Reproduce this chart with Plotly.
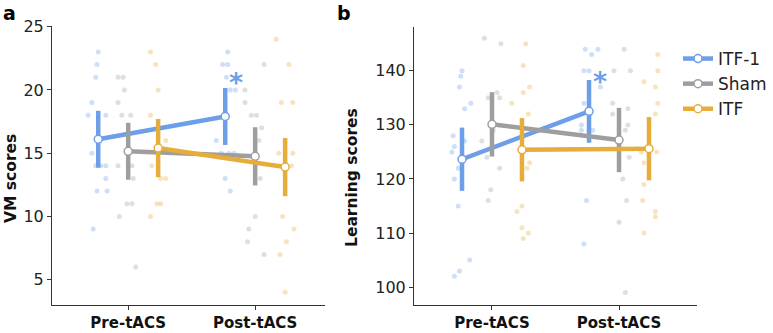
import plotly.graph_objects as go

# ---------------- data ----------------
conditions = ["Pre-tACS", "Post-tACS"]
groups = ["ITF-1", "Sham", "ITF"]

# Panel a: VM scores (group means and SEM)
vm_mean_itf1 = [16.1, 17.9]
vm_sem_itf1 = [2.25, 2.25]
vm_mean_sham = [15.15, 14.75]
vm_sem_sham = [2.25, 2.3]
vm_mean_itf = [15.4, 13.9]
vm_sem_itf = [2.3, 2.3]

# Panel b: Learning scores (group means and SEM)
ls_mean_itf1 = [123.65, 132.5]
ls_sem_itf1 = [5.85, 5.8]
ls_mean_sham = [130.1, 127.2]
ls_sem_sham = [5.95, 5.95]
ls_mean_itf = [125.4, 125.6]
ls_sem_itf = [5.85, 5.85]

# individual subject points (values, and horizontal jitter in category units)
vm_itf1_pre = [23, 22, 21, 19, 18, 18, 15, 14, 14, 14, 13, 12, 12, 9]
vm_itf1_pre_jit = [0.0, -0.01, -0.02, -0.05, -0.08, 0.06, -0.05, -0.02, 0.02, 0.06, 0.06, -0.01, 0.07, -0.04]
vm_itf1_post = [23, 22, 22, 21, 20, 20, 16, 15, 15, 15, 13, 12]
vm_itf1_post_jit = [0.02, -0.02, 0.02, 0.01, 0.04, 0.08, -0.07, -0.03, 0.03, 0.07, 0.0, 0.04]
vm_sham_pre = [21, 21, 20, 19, 18, 18, 14, 14, 13, 11, 11, 10, 6]
vm_sham_pre_jit = [-0.08, -0.04, -0.03, -0.08, -0.05, 0.02, -0.08, 0.03, 0.04, -0.01, 0.03, -0.07, 0.06]
vm_sham_post = [22, 20, 19, 18, 18, 17, 16, 13, 10, 9, 8, 7]
vm_sham_post_jit = [0.07, -0.08, -0.08, -0.03, 0.01, 0.05, 0.03, 0.04, 0.0, -0.05, -0.06, 0.07]
vm_itf_pre = [23, 22, 20, 18, 16, 14, 13, 13, 11, 11, 10]
vm_itf_pre_jit = [-0.06, -0.02, 0.0, -0.06, 0.06, -0.05, 0.02, 0.06, -0.01, 0.02, -0.06]
vm_itf_post = [24, 22, 19, 19, 15, 15, 14, 10, 9, 8, 7, 4]
vm_itf_post_jit = [-0.07, 0.03, -0.03, 0.06, -0.05, 0.06, 0.05, -0.02, 0.07, 0.01, -0.04, 0.0]

ls_itf1_pre = [140, 139, 137, 134, 133, 128, 127, 126, 125, 122, 120, 115, 105, 103, 102]
ls_itf1_pre_jit = [0.0, -0.01, -0.02, 0.07, 0.02, -0.07, 0.02, -0.06, -0.08, -0.03, -0.06, -0.03, 0.06, -0.02, -0.06]
ls_itf1_post = [144, 144, 143, 140, 140, 137, 134, 130, 129, 129, 116, 108]
ls_itf1_post_jit = [-0.03, 0.07, 0.02, -0.04, 0.0, 0.09, -0.04, -0.06, -0.06, 0.03, -0.02, -0.04]
ls_sham_pre = [146, 145, 136, 135, 135, 129, 127, 124, 122, 118, 116]
ls_sham_pre_jit = [-0.06, 0.07, 0.04, 0.06, -0.03, 0.01, -0.08, -0.04, 0.06, -0.01, -0.03]
ls_sham_post = [144, 140, 140, 134, 133, 132, 130, 129, 124, 120, 116, 112, 99]
ls_sham_post_jit = [0.04, -0.04, 0.09, -0.05, 0.07, -0.05, 0.07, 0.05, 0.08, 0.03, 0.06, 0.0, 0.05]
ls_itf_pre = [145, 141, 137, 136, 134, 132, 123, 122, 115, 114, 111, 110, 109]
ls_itf_pre_jit = [0.03, 0.01, 0.06, 0.01, -0.08, 0.05, 0.06, 0.04, 0.0, -0.04, 0.0, 0.05, 0.01]
ls_itf_post = [143, 140, 138, 137, 134, 132, 125, 125, 123, 119, 116, 114, 113, 110]
ls_itf_post_jit = [0.07, 0.07, -0.04, 0.05, 0.07, 0.05, -0.06, 0.06, -0.04, -0.04, -0.05, 0.05, 0.05, -0.04]

y_ticks_a = [5, 10, 15, 20, 25]
y_ticks_b = [100, 110, 120, 130, 140]
sig_label = "*"

# ---------------- styling ----------------
colors = {"ITF-1": "#6d9ee8", "Sham": "#9e9e9e", "ITF": "#e6ad3a"}
offsets = {"ITF-1": -0.236, "Sham": 0.0, "ITF": 0.236}
FONT = "DejaVu Sans"

panels = [
    {
        "xaxis": "x", "yaxis": "y", "star_shift": 6,
        "means": {"ITF-1": vm_mean_itf1, "Sham": vm_mean_sham, "ITF": vm_mean_itf},
        "sems": {"ITF-1": vm_sem_itf1, "Sham": vm_sem_sham, "ITF": vm_sem_itf},
        "points": {
            "ITF-1": [(vm_itf1_pre, vm_itf1_pre_jit), (vm_itf1_post, vm_itf1_post_jit)],
            "Sham": [(vm_sham_pre, vm_sham_pre_jit), (vm_sham_post, vm_sham_post_jit)],
            "ITF": [(vm_itf_pre, vm_itf_pre_jit), (vm_itf_post, vm_itf_post_jit)],
        },
    },
    {
        "xaxis": "x2", "yaxis": "y2", "star_shift": -1,
        "means": {"ITF-1": ls_mean_itf1, "Sham": ls_mean_sham, "ITF": ls_mean_itf},
        "sems": {"ITF-1": ls_sem_itf1, "Sham": ls_sem_sham, "ITF": ls_sem_itf},
        "points": {
            "ITF-1": [(ls_itf1_pre, ls_itf1_pre_jit), (ls_itf1_post, ls_itf1_post_jit)],
            "Sham": [(ls_sham_pre, ls_sham_pre_jit), (ls_sham_post, ls_sham_post_jit)],
            "ITF": [(ls_itf_pre, ls_itf_pre_jit), (ls_itf_post, ls_itf_post_jit)],
        },
    },
]

fig = go.Figure()

# individual points first
for p in panels:
    for g in groups:
        xs, ys = [], []
        for ci, (vals, jit) in enumerate(p["points"][g]):
            for v, j in zip(vals, jit):
                xs.append(ci + offsets[g] + j)
                ys.append(v)
        fig.add_trace(go.Scatter(
            x=xs, y=ys, mode="markers", xaxis=p["xaxis"], yaxis=p["yaxis"],
            marker=dict(size=5, color=colors[g], opacity=0.33),
            showlegend=False, hoverinfo="skip"))

# error bars + means
for pi, p in enumerate(panels):
    for g in groups:
        ex, ey = [], []
        for ci in range(len(conditions)):
            m = p["means"][g][ci]
            s = p["sems"][g][ci]
            ex += [ci + offsets[g], ci + offsets[g], None]
            ey += [m - s, m + s, None]
        fig.add_trace(go.Scatter(
            x=ex, y=ey, mode="lines", xaxis=p["xaxis"], yaxis=p["yaxis"],
            line=dict(color=colors[g], width=4.5),
            showlegend=False, hoverinfo="skip"))
        fig.add_trace(go.Scatter(
            x=[ci + offsets[g] for ci in range(len(conditions))],
            y=p["means"][g], mode="lines+markers",
            xaxis=p["xaxis"], yaxis=p["yaxis"],
            name=g, legendgroup=g, showlegend=(pi == 0),
            line=dict(color=colors[g], width=4.5),
            marker=dict(size=8, color="white", line=dict(color=colors[g], width=1.5))))

# significance asterisks (above ITF-1 post error bars)
for p in panels:
    m = p["means"]["ITF-1"][1]
    s = p["sems"]["ITF-1"][1]
    fig.add_annotation(
        x=1 + offsets["ITF-1"] + 0.087, y=m + s, xref=p["xaxis"], yref=p["yaxis"],
        text="<b>" + sig_label + "</b>", showarrow=False, yanchor="middle", xanchor="center",
        yshift=p["star_shift"],
        font=dict(family=FONT, size=27, color=colors["ITF-1"]))

W, H = 773, 333
def px_x(v):
    return v / W
def px_y(v):
    return 1 - v / H

axis_common = dict(
    showgrid=False, zeroline=False, showline=True, linecolor="#333333", linewidth=1,
    ticks="outside", ticklen=4, tickcolor="#333333", mirror=False, automargin=False)

fig.update_layout(
    width=W, height=H, margin=dict(l=0, r=0, t=0, b=0, pad=0, autoexpand=False),
    paper_bgcolor="white", plot_bgcolor="white",
    font=dict(family=FONT, color="#222222"),
    xaxis=dict(domain=[px_x(52), px_x(325)], range=[-0.6, 1.55],
               tickvals=[0, 1], ticktext=conditions,
               tickfont=dict(size=15, weight="bold", color="#111111"), anchor="y", **axis_common),
    yaxis=dict(domain=[px_y(305), px_y(26)], range=[3.0, 25.05], tickvals=y_ticks_a,
               tickfont=dict(size=16), anchor="x", **axis_common),
    xaxis2=dict(domain=[px_x(414), px_x(697)], range=[-0.614, 1.614],
                tickvals=[0, 1], ticktext=conditions,
                tickfont=dict(size=15, weight="bold", color="#111111"), anchor="y2", **axis_common),
    yaxis2=dict(domain=[px_y(305), px_y(27)], range=[96.7, 148.1], tickvals=y_ticks_b,
                tickfont=dict(size=16), anchor="x2", **axis_common),
    legend=dict(x=px_x(678), y=px_y(41), xanchor="left", yanchor="top",
                font=dict(size=17, color="#222222"), bgcolor="rgba(0,0,0,0)",
                itemwidth=30, tracegroupgap=0),
    showlegend=True,
)

# y-axis titles and panel letters
fig.add_annotation(x=px_x(11), y=px_y(179), xref="paper", yref="paper", text="<b>VM scores</b>",
                   textangle=-90, showarrow=False, xanchor="center", yanchor="middle",
                   font=dict(family=FONT, size=15.5, color="#111111"))
fig.add_annotation(x=px_x(352), y=px_y(178), xref="paper", yref="paper", text="<b>Learning scores</b>",
                   textangle=-90, showarrow=False, xanchor="center", yanchor="middle",
                   font=dict(family=FONT, size=15.5, color="#111111"))
fig.add_annotation(x=px_x(9), y=px_y(13), xref="paper", yref="paper", text="<b>a</b>",
                   showarrow=False, xanchor="center", yanchor="middle",
                   font=dict(family=FONT, size=19, color="#000000"))
fig.add_annotation(x=px_x(344), y=px_y(13), xref="paper", yref="paper", text="<b>b</b>",
                   showarrow=False, xanchor="center", yanchor="middle",
                   font=dict(family=FONT, size=19, color="#000000"))

fig.write_html("out.html", config={"displayModeBar": False},
               post_script="document.body.style.margin='0';document.body.style.overflow='hidden';")
